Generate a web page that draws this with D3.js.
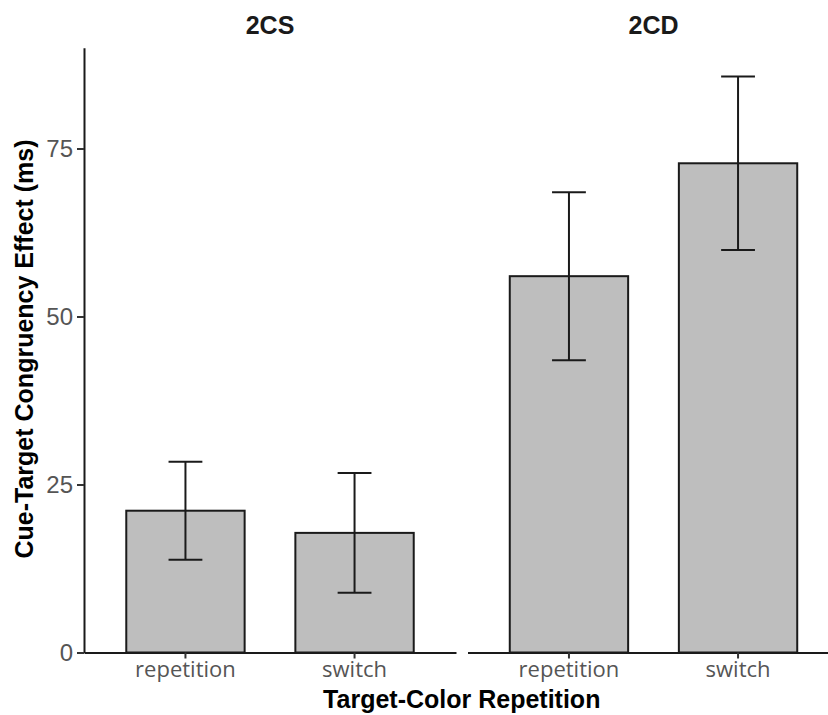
<!DOCTYPE html>
<html>
<head>
<meta charset="utf-8">
<script src="https://cdn.jsdelivr.net/npm/d3@7"></script>
<style>
  html, body { margin: 0; padding: 0; background: #fff; }
  svg { display: block; }
</style>
</head>
<body>
<svg id="chart" width="828" height="715"></svg>
<script>
// ---- data ----
const panels = ["2CS", "2CD"];
const categories = ["repetition", "switch"];
const means2CS = [21.1, 17.8];
const lower2CS = [13.8, 8.9];
const upper2CS = [28.4, 26.7];
const means2CD = [56.0, 72.8];
const lower2CD = [43.5, 59.9];
const upper2CD = [68.5, 85.7];
const yTicks = [0, 25, 50, 75];
const yTitle = "Cue-Target Congruency Effect (ms)";
const xTitle = "Target-Color Repetition";

const panelData = {
  "2CS": categories.map((c, i) => ({ cat: c, mean: means2CS[i], lo: lower2CS[i], hi: upper2CS[i] })),
  "2CD": categories.map((c, i) => ({ cat: c, mean: means2CD[i], lo: lower2CD[i], hi: upper2CD[i] }))
};

// ---- layout ----
const svg = d3.select("#chart");
const plotTop = 47.7, plotBottom = 652.5;
const panelLeft0 = 84, panelWidth = 372, panelGap = 11.5;
const boldFont = "'Liberation Sans', Arial, Helvetica, sans-serif";

const y = d3.scaleLinear().domain([0, 90]).range([plotBottom, plotTop]);

panels.forEach((p, pi) => {
  const left = panelLeft0 + pi * (panelWidth + panelGap);
  const right = left + panelWidth;
  const x = d3.scaleBand().domain(categories).range([left, right])
    .paddingInner(0.3).paddingOuter(0.25);
  const bw = x.bandwidth();
  const capHalf = bw * (0.2 / 0.7) / 2;
  const g = svg.append("g");

  // bars
  g.selectAll("rect.bar").data(panelData[p]).join("rect")
    .attr("class", "bar")
    .attr("x", d => x(d.cat))
    .attr("y", d => y(d.mean))
    .attr("width", bw)
    .attr("height", d => y(0) - y(d.mean))
    .attr("fill", "#BEBEBE")
    .attr("stroke", "#1a1a1a")
    .attr("stroke-width", 2);

  // error bars
  const eb = g.selectAll("g.err").data(panelData[p]).join("g").attr("class", "err")
    .attr("stroke", "#1a1a1a").attr("stroke-width", 2);
  eb.append("line")
    .attr("x1", d => x(d.cat) + bw / 2).attr("x2", d => x(d.cat) + bw / 2)
    .attr("y1", d => y(d.lo)).attr("y2", d => y(d.hi));
  eb.append("line")
    .attr("x1", d => x(d.cat) + bw / 2 - capHalf).attr("x2", d => x(d.cat) + bw / 2 + capHalf)
    .attr("y1", d => y(d.hi)).attr("y2", d => y(d.hi));
  eb.append("line")
    .attr("x1", d => x(d.cat) + bw / 2 - capHalf).attr("x2", d => x(d.cat) + bw / 2 + capHalf)
    .attr("y1", d => y(d.lo)).attr("y2", d => y(d.lo));

  // x axis
  const xa = svg.append("g")
    .attr("transform", `translate(0,${plotBottom})`)
    .call(d3.axisBottom(x).tickSize(6).tickPadding(3).tickSizeOuter(0));
  xa.select(".domain").attr("stroke", "#1a1a1a").attr("stroke-width", 2);
  xa.selectAll(".tick line").attr("stroke", "#333").attr("stroke-width", 2);
  xa.selectAll(".tick text")
    .attr("font-family", "'Open Sans', sans-serif")
    .attr("font-size", 22)
    .attr("fill", "#555")
    .attr("dy", "0.72em");

  // strip label
  svg.append("text")
    .attr("x", (left + right) / 2).attr("y", 34)
    .attr("text-anchor", "middle")
    .attr("font-family", boldFont).attr("font-weight", "bold")
    .attr("font-size", 25).attr("fill", "#1a1a1a")
    .text(p);

  // y axis only on first panel
  if (pi === 0) {
    const ya = svg.append("g")
      .attr("transform", `translate(${left},0)`)
      .call(d3.axisLeft(y).tickValues(yTicks).tickSize(7).tickPadding(4).tickSizeOuter(0));
    ya.select(".domain").attr("stroke", "#1a1a1a").attr("stroke-width", 2);
    ya.selectAll(".tick line").attr("stroke", "#333").attr("stroke-width", 2);
    ya.selectAll(".tick text")
      .attr("font-family", "'Liberation Sans', Arial, sans-serif")
      .attr("font-size", 24)
      .attr("fill", "#555");
  }
});

// axis titles
svg.append("text")
  .attr("x", panelLeft0 + panelWidth + panelGap / 2).attr("y", 708)
  .attr("text-anchor", "middle")
  .attr("font-family", boldFont).attr("font-weight", "bold")
  .attr("font-size", 25).attr("fill", "#000")
  .text(xTitle);

svg.append("text")
  .attr("transform", "translate(33,349) rotate(-90)")
  .attr("text-anchor", "middle")
  .attr("font-family", boldFont).attr("font-weight", "bold")
  .attr("font-size", 25).attr("fill", "#000")
  .text(yTitle);
</script>
</body>
</html>
